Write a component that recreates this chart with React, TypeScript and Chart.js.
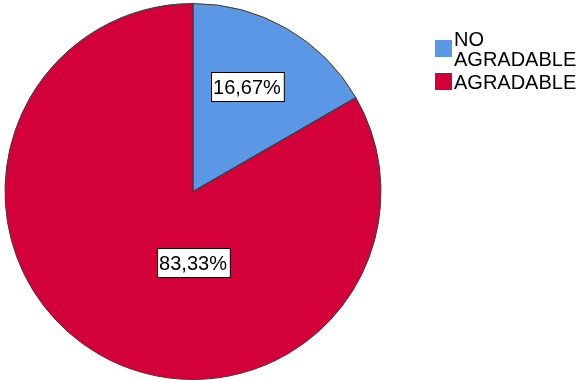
import React, { useEffect, useRef } from "react";
import { Chart, registerables } from "chart.js";

Chart.register(...registerables);

const categories: string[] = ["NO AGRADABLE", "AGRADABLE"];
const percentValues: number[] = [16.67, 83.33];
const sliceColors: string[] = ["#5A97E5", "#D3003A"];

const FONT = '"Liberation Sans", Arial, sans-serif';

// Label placement (angle from 12 o'clock clockwise in degrees, fraction of radius)
const LABEL_PLACEMENT = [
  { angle: 27.2, frac: 0.628 },
  { angle: 180, frac: 0.375 },
];

const formatPct = (v: number) => v.toFixed(2).replace(".", ",") + "%";

const labelPlugin = {
  id: "sliceLabels",
  afterDatasetsDraw(chart: any) {
    const ctx: CanvasRenderingContext2D = chart.ctx;
    const meta = chart.getDatasetMeta(0);
    ctx.save();
    ctx.font = `20px ${FONT}`;
    meta.data.forEach((arc: any, i: number) => {
      const { x, y, outerRadius } = arc.getProps(["x", "y", "outerRadius"], true);
      const p = LABEL_PLACEMENT[i];
      const a = (p.angle * Math.PI) / 180;
      const cx = x + Math.sin(a) * outerRadius * p.frac;
      const cy = y - Math.cos(a) * outerRadius * p.frac;
      const text = formatPct(percentValues[i]);
      const w = ctx.measureText(text).width + 5;
      const h = 29;
      const bx = Math.round(cx - w / 2) + 0.5;
      const by = Math.round(cy - h / 2) + 0.5;
      ctx.fillStyle = "#ffffff";
      ctx.fillRect(bx, by, w, h);
      ctx.strokeStyle = "#000000";
      ctx.lineWidth = 1;
      ctx.strokeRect(bx, by, w, h);
      ctx.fillStyle = "#000000";
      ctx.textAlign = "center";
      ctx.textBaseline = "middle";
      ctx.fillText(text, cx, cy + 2);
    });
    ctx.restore();
  },
};

const legendPlugin = {
  id: "customLegend",
  afterDraw(chart: any) {
    const ctx: CanvasRenderingContext2D = chart.ctx;
    ctx.save();
    ctx.font = `20px ${FONT}`;
    const squareX = 435;
    const textX = 454;
    const maxW = 128;
    const lineH = 20;
    let top = 28;
    categories.forEach((label, i) => {
      const words = label.split(" ");
      const lines: string[] = [];
      let cur = "";
      words.forEach((wd) => {
        const test = cur ? cur + " " + wd : wd;
        if (cur && ctx.measureText(test).width > maxW) {
          lines.push(cur);
          cur = wd;
        } else {
          cur = test;
        }
      });
      if (cur) lines.push(cur);
      const entryH = lines.length * lineH;
      const sq = 17;
      const sqTop = top + entryH / 2 - sq / 2;
      ctx.fillStyle = sliceColors[i];
      ctx.fillRect(squareX, Math.round(sqTop), sq, sq);
      ctx.fillStyle = "#000000";
      ctx.textAlign = "left";
      ctx.textBaseline = "alphabetic";
      lines.forEach((ln, j) => {
        ctx.fillText(ln, textX, top + 18 + j * lineH);
      });
      top += entryH + 3;
    });
    ctx.restore();
  },
};

export default function App() {
  const ref = useRef<HTMLCanvasElement | null>(null);
  useEffect(() => {
    document.body.style.margin = "0";
    const canvas = ref.current;
    if (!canvas) return;
    const chart = new Chart(canvas, {
      type: "pie",
      data: {
        labels: categories,
        datasets: [
          {
            data: percentValues,
            backgroundColor: sliceColors,
            borderColor: "#3a3a3a",
            borderWidth: 1,
          },
        ],
      },
      options: {
        animation: false,
        responsive: false,
        maintainAspectRatio: false,
        layout: { padding: { top: 3, bottom: 0, left: 4, right: 201 } },
        plugins: {
          legend: { display: false },
          tooltip: { enabled: false },
        },
      },
      plugins: [labelPlugin, legendPlugin],
    });
    return () => chart.destroy();
  }, []);
  return (
    <div style={{ width: 583, height: 380, background: "#ffffff" }}>
      <canvas ref={ref} width={583} height={380} style={{ display: "block" }} />
    </div>
  );
}
